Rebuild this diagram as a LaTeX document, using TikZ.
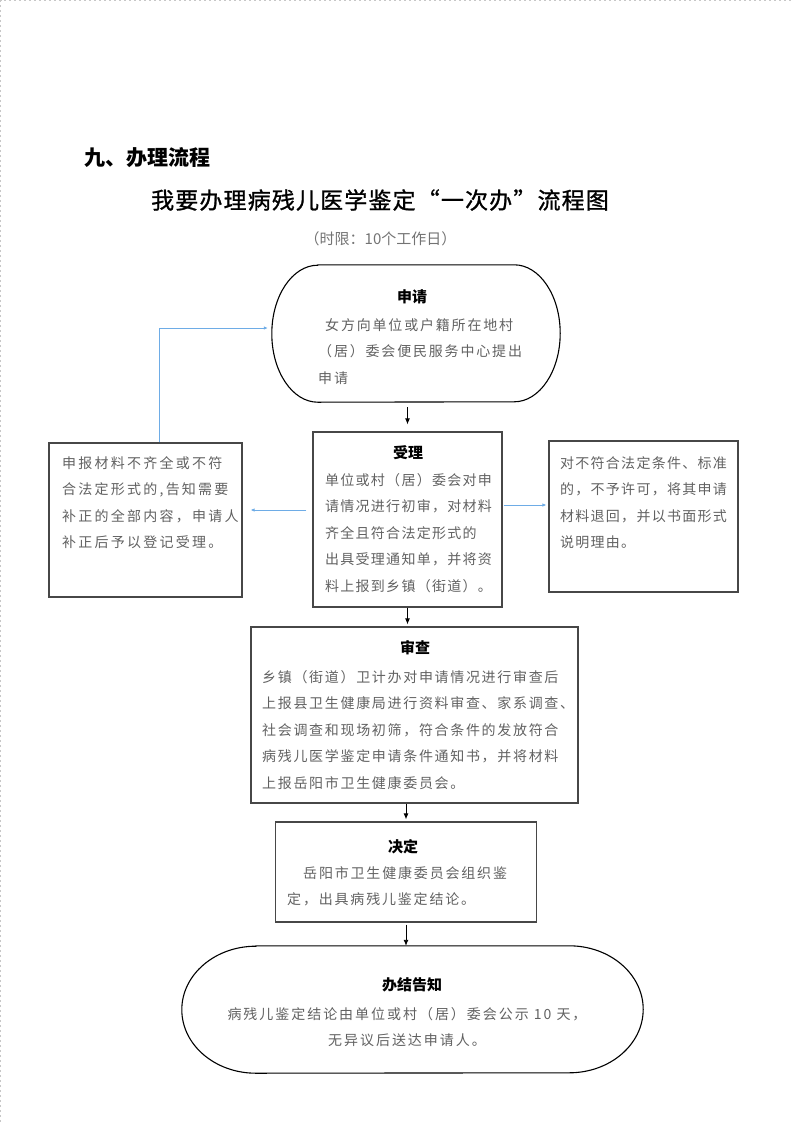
\documentclass[tikz,border=0pt]{standalone}
\usepackage{fontspec}
\setmainfont{Noto Sans CJK SC}
\newfontfamily\bodyfont{Noto Sans CJK SC}
\usepackage{tikz}
\usetikzlibrary{arrows.meta}
\usetikzlibrary{calc}
\definecolor{linkblue}{RGB}{110,172,230}

\begin{document}
\begin{tikzpicture}[x=1pt,y=-1pt,
    frame/.style={draw=black!72, line width=1.2pt, inner sep=0pt},
    boxtitle/.style={font=\fontsize{15}{18}\selectfont\bfseries, inner sep=0pt},
    boxtext/.style={font=\bodyfont\fontsize{14}{26.6}\selectfont\addfontfeature{LetterSpace=#1}, text=black!62, align=left, inner sep=0pt, anchor=north west},
    boxtext/.default=13,
    flow/.style={-{Latex[length=6pt,width=5pt]}, line width=0.9pt},
    feedback/.style={-{Latex[length=4pt,width=3.5pt]}, draw=linkblue, line width=0.8pt}]
      \useasboundingbox (0,0) rectangle (793,1122);
      \draw[black!22, dash pattern=on 2pt off 3pt] (0.5,1122) -- (0.5,0.5) -- (793,0.5);

      % headings
      \node[font=\fontsize{21}{24}\selectfont\bfseries, anchor=west, inner sep=0pt] (section) at (84,158) {九、办理流程};
      \node[font=\fontsize{23}{26}\selectfont\addfontfeature{FakeBold=1,LetterSpace=5}, inner sep=0pt] (chart-title) at (380,200) {我要办理病残儿医学鉴定“一次办”流程图};
      \node[font=\fontsize{15}{18}\selectfont, text=black!55, inner sep=0pt] (time-limit) at (380.5,239) {（时限：10个工作日）};

      % boxes
      \node[inner sep=0pt, minimum width=288, minimum height=137] (apply) at (416,333.5) {};
      \node[frame, minimum width=189, minimum height=175] (accept) at (407.5,519.5) {};
      \node[frame, minimum width=193, minimum height=154] (incomplete) at (145.5,520) {};
      \node[frame, minimum width=189, minimum height=151] (reject) at (643.5,516.5) {};
      \node[frame, minimum width=327, minimum height=176] (review) at (414.5,715) {};
      \node[frame, minimum width=261, minimum height=100] (decide) at (406,872) {};
      \node[inner sep=0pt, minimum width=461, minimum height=127] (finish) at (412.5,1009.5) {};

      \draw[line width=1.1pt] ([xshift=46]apply.north west) -- ([xshift=-46]apply.north east)
        arc[start angle=90, end angle=-90, x radius=46pt, y radius=68.5pt]
        -- ([xshift=46]apply.south west)
        arc[start angle=270, end angle=90, x radius=46pt, y radius=68.5pt] -- cycle;
      \draw[line width=1.1pt] ([xshift=74]finish.north west) -- ([xshift=-74]finish.north east)
        arc[start angle=90, end angle=-90, x radius=74pt, y radius=63.5pt]
        -- ([xshift=74]finish.south west)
        arc[start angle=270, end angle=90, x radius=74pt, y radius=63.5pt] -- cycle;

      % texts
      \node[boxtitle] (apply-title) at (412,297) {申请};
      \node[boxtext=13] (apply-text) at (318,318) {\hspace*{7pt}女方向单位或户籍所在地村\\（居）委会便民服务中心提出\\申请};
      \node[boxtitle] (accept-title) at (408,453) {受理};
      \node[boxtext=9] (accept-text) at (325,473) {单位或村（居）委会对申\\请情况进行初审，对材料\\齐全且符合法定形式的\\出具受理通知单，并将资\\料上报到乡镇（街道）。};
      \node[boxtext=16] (incomplete-text) at (62,456) {申报材料不齐全或不符\\合法定形式的,告知需要\\补正的全部内容，申请人\\补正后予以登记受理。};
      \node[boxtext=9] (reject-text) at (560,456) {对不符合法定条件、标准\\的，不予许可，将其申请\\材料退回，并以书面形式\\说明理由。};
      \node[boxtitle] (review-title) at (415,648) {审查};
      \node[boxtext=12] (review-text) at (262,670) {乡镇（街道）卫计办对申请情况进行审查后\\上报县卫生健康局进行资料审查、家系调查、\\社会调查和现场初筛，符合条件的发放符合\\病残儿医学鉴定申请条件通知书，并将材料\\上报岳阳市卫生健康委员会。};
      \node[boxtitle] (decide-title) at (403,847) {决定};
      \node[boxtext=13] (decide-text) at (287,866) {\hspace*{16pt}岳阳市卫生健康委员会组织鉴\\定，出具病残儿鉴定结论。};
      \node[boxtitle] (finish-title) at (412,985) {办结告知};
      \node[boxtext=14, align=center, anchor=north] (finish-text) at (407,1007) {病残儿鉴定结论由单位或村（居）委会公示 10 天，\\无异议后送达申请人。};

      % connectors
      \draw[flow, shorten <=5pt, shorten >=7pt] (apply.south -| accept.north) -- (accept.north);
      \draw[flow, shorten >=2pt] (accept.south) -- (accept.south |- review.north);
      \draw[flow, shorten >=2pt] (decide.north |- review.south) -- (decide.north);
      \draw[flow, shorten <=2pt] (decide.south) -- (decide.south |- finish.north);
      \draw[feedback, shorten <=6pt, shorten >=8pt] ([yshift=9.5]accept.west) -- ([yshift=9.5]accept.west -| incomplete.east);
      \draw[feedback, shorten <=1pt, shorten >=2pt] ([yshift=14.5]accept.east) -- ([yshift=14.5]accept.east -| reject.west);
      \draw[feedback, shorten >=4pt] ([xshift=13.5]incomplete.north) |- ([yshift=5.5]apply.west);
\end{tikzpicture}
\end{document}
